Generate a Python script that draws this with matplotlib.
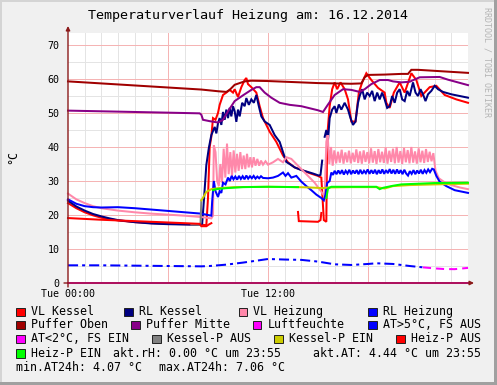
import numpy as np
import matplotlib.pyplot as plt
from matplotlib.patches import Rectangle

W, H = 497, 385
nan = np.nan
MONO = 'DejaVu Sans Mono'

# (hour, value) pairs
vl_kessel = [(0, 23.5), (0.5, 22.0), (1, 20.8), (1.5, 19.9), (2, 19.2), (3, 18.4), (4, 17.9), (5, 17.6),
             (6, 17.4), (7, 17.3), (7.9, 17.2), (8.3, 17.0), (8.4, 25), (8.5, 40), (8.6, 43), (8.7, 48.5),
             (8.85, 48), (9.0, 50), (9.1, 52.4), (9.3, 55.3), (9.5, 56), (9.7, 56.8), (9.9, 56), (10.0, 57),
             (10.2, 54.7), (10.4, 57.6), (10.6, 59.7), (10.7, 60.3), (10.8, 58.5), (11.0, 57.6), (11.3, 56),
             (11.5, 52), (11.7, 48.5), (12.1, 44.5), (12.5, 41.5), (12.9, 37.5), (13.2, 35.5), (13.6, 34),
             (14.0, 33.3), (14.5, 32.3), (15.0, 31.5), (15.2, 31.0), (15.35, 18.5), (15.5, 18), (15.55, 43),
             (15.7, 52), (15.85, 57), (16.0, 59), (16.15, 57), (16.35, 59), (16.6, 57), (16.8, 54), (17.0, 47.5),
             (17.25, 47.5), (17.45, 56), (17.65, 59), (17.9, 61.7), (18.2, 59.7), (18.6, 57.4), (19.0, 56),
             (19.1, 53), (19.3, 51.5), (19.55, 56), (19.9, 59), (20.2, 56), (20.6, 61.7), (20.9, 59.7),
             (21.2, 55), (21.7, 57.6), (22.1, 58), (22.6, 55.3), (23.3, 54), (24, 53)]

rl_kessel = [(0, 24.2), (0.5, 22.5), (1, 21.3), (1.5, 20.3), (2, 19.6), (2.5, 19), (3, 18.5), (4, 17.9),
             (5, 17.5), (6, 17.3), (7, 17.2), (7.9, 17.1), (8.05, 17.5), (8.15, 24), (8.3, 34.7), (8.45, 39.7),
             (8.6, 43.5), (8.8, 45.9), (8.9, 44), (9.0, 47), (9.1, 48.5), (9.2, 46.5), (9.3, 50.3), (9.4, 48),
             (9.5, 51), (9.6, 48.5), (9.7, 51.5), (9.8, 49), (9.9, 52), (10.0, 50.5), (10.1, 47.4), (10.2, 51),
             (10.3, 49), (10.45, 53), (10.6, 52), (10.7, 54.4), (10.85, 52.4), (11.0, 54), (11.15, 53),
             (11.3, 55.3), (11.45, 52), (11.6, 49), (11.8, 47.5), (12.1, 46.5), (12.4, 43.5), (12.7, 41.5),
             (12.9, 38.5), (13.1, 35.6), (13.3, 35), (13.6, 34), (13.9, 33.4), (14.3, 32.8), (14.7, 32.2),
             (15.05, 31.6), (15.15, 31.8), (15.25, 36), (15.3, nan), (15.4, 43), (15.5, 45), (15.6, 42),
             (15.7, 48.5), (15.85, 51), (16.0, 52), (16.1, 50), (16.25, 52.5), (16.4, 51), (16.6, 53),
             (16.8, 51), (16.95, 48.5), (17.1, 46.5), (17.25, 47.5), (17.4, 53), (17.5, 55), (17.65, 57),
             (17.8, 54), (17.95, 56), (18.1, 55), (18.25, 56.5), (18.4, 53.5), (18.55, 56), (18.7, 54),
             (18.85, 56), (19.0, 54), (19.15, 51.5), (19.3, 52), (19.45, 55), (19.6, 53), (19.75, 56),
             (19.9, 57), (20.05, 54), (20.2, 53.5), (20.35, 56.5), (20.5, 55), (20.7, 59), (20.85, 56),
             (21.0, 55), (21.15, 57), (21.3, 55.5), (21.45, 53.5), (21.6, 55.5), (21.8, 56.5), (22.0, 58),
             (22.2, 57), (22.5, 56.2), (23, 55.5), (23.5, 55), (24, 54.5)]

vl_heizung = [(0, 26.3), (0.5, 24.6), (1, 23.5), (1.5, 22.6), (2, 22.0), (3, 21.3), (4, 20.8), (5, 20.4),
              (6, 20.1), (7, 19.8), (8.0, 19.4), (8.6, 19.0), (8.7, 19.8), (8.75, 40.5), (8.85, 38.5),
              (8.95, 30), (9.05, 28.5), (9.14, 35), (9.24, 29.5), (9.34, 39.5), (9.44, 31), (9.54, 41),
              (9.64, 32), (9.74, 38.5), (9.84, 31.5), (9.94, 39), (10.04, 32.5), (10.14, 38), (10.24, 33),
              (10.34, 38.5), (10.44, 33.5), (10.54, 37.5), (10.64, 33.5), (10.74, 38), (10.84, 34),
              (10.94, 37), (11.04, 34), (11.14, 37), (11.25, 34.5), (11.36, 36.5), (11.47, 34.5), (11.58, 36),
              (11.7, 34.8), (11.85, 35.8), (12.0, 34.8), (12.3, 35.5), (12.6, 36.5), (12.9, 35.5), (13.1, 37),
              (13.4, 36.5), (13.7, 35), (14.0, 33.5), (14.4, 31.5), (14.8, 29.5), (15.1, 27.5), (15.4, 25.5),
              (15.5, 41.5), (15.58, 43.5), (15.68, 35), (15.78, 40), (15.88, 34.5),
              (15.98, 39), (16.09, 35.2), (16.2, 38.6), (16.31, 35.4), (16.42, 39.2), (16.53, 35.1),
              (16.64, 38.4), (16.75, 35.5), (16.86, 38.9), (16.97, 35.2), (17.08, 38.3), (17.19, 35.6),
              (17.3, 39.3), (17.41, 35.3), (17.52, 38.7), (17.63, 35.1), (17.74, 39.0), (17.85, 35.6),
              (17.96, 38.5), (18.07, 35.2), (18.18, 39.6), (18.29, 35.4), (18.4, 38.8), (18.51, 35.0),
              (18.62, 39.4), (18.73, 35.5), (18.84, 38.6), (18.95, 35.3), (19.06, 39.8), (19.17, 35.1),
              (19.28, 38.9), (19.39, 35.6), (19.5, 39.5), (19.61, 35.2), (19.72, 40.0), (19.83, 35.4),
              (19.94, 38.8), (20.05, 35.0), (20.16, 39.7), (20.27, 35.5), (20.38, 39.1), (20.49, 35.2),
              (20.6, 40.0), (20.71, 35.4), (20.82, 38.7), (20.93, 35.1), (21.04, 39.6), (21.15, 35.5),
              (21.26, 38.9), (21.37, 35.3), (21.48, 39.4), (21.59, 35.6), (21.7, 38.6), (21.81, 35.8),
              (21.92, 38.2), (22.05, 33), (22.25, 30.8), (22.6, 29.6), (23.0, 28.8), (23.5, 28.1), (24, 27.6)]

rl_heizung = [(0, 24.6), (0.5, 23.3), (1, 22.6), (1.5, 22.3), (2, 22.2), (3, 22.3), (4, 22.0), (5, 21.6),
              (6, 21.2), (7, 20.8), (8, 20.4), (8.6, 19.8), (8.65, 24), (8.75, 30), (8.85, 27), (9.0, 25.3),
              (9.1, 27), (9.2, 26.5), (9.3, 29.5), (9.45, 29), (9.6, 31), (9.71, 30), (9.82, 31.5),
              (9.93, 30.5), (10.04, 31.3), (10.15, 30.4), (10.26, 31.5), (10.37, 30.6), (10.48, 31.4),
              (10.59, 30.5), (10.7, 31.6), (10.81, 30.7), (10.92, 31.4), (11.03, 30.8), (11.14, 31.5),
              (11.25, 30.7), (11.36, 31.3), (11.47, 30.8), (11.58, 31.4), (11.7, 30.9), (12.0, 30.8),
              (12.3, 31), (12.6, 31.5), (12.9, 32.5), (13.05, 31.5), (13.2, 32.3), (13.4, 31), (13.7, 31.5),
              (14.0, 29.8), (14.3, 28.5), (14.6, 27.3), (14.9, 26), (15.2, 25), (15.35, 24.3), (15.45, 26),
              (15.55, 29.4), (15.7, 30), (15.8, 32.5), (15.9, 31.8), (16.0, 33.0), (16.11, 32.0), (16.22, 33.1),
              (16.33, 32.1), (16.44, 33.2), (16.55, 31.9), (16.66, 33.0), (16.77, 32.2), (16.88, 33.3),
              (16.99, 32.0), (17.1, 33.1), (17.21, 32.2), (17.32, 33.2), (17.43, 32.0), (17.54, 33.3),
              (17.65, 32.1), (17.76, 33.0), (17.87, 32.3), (17.98, 33.4), (18.09, 32.1), (18.2, 33.2),
              (18.31, 32.2), (18.42, 33.3), (18.53, 32.0), (18.64, 33.2), (18.75, 32.2), (18.86, 33.4),
              (18.97, 32.1), (19.08, 33.2), (19.19, 32.3), (19.3, 33.5), (19.41, 32.2), (19.52, 33.3),
              (19.63, 32.1), (19.74, 33.4), (19.85, 32.2), (19.96, 33.2), (20.07, 32.0), (20.18, 33.3),
              (20.29, 32.2), (20.4, 31.6), (20.51, 32.9), (20.62, 32.1), (20.73, 33.2), (20.84, 32.0),
              (20.95, 33.1), (21.06, 32.2), (21.17, 33.3), (21.28, 32.1), (21.39, 33.2), (21.5, 32.4),
              (21.61, 33.4), (21.72, 32.6), (21.85, 33.6), (21.95, 33.4), (22.1, 31.5), (22.3, 29.8),
              (22.7, 28.5), (23.2, 27.3), (24, 26.5)]

puffer_oben = [(0, 59.3), (2, 58.7), (4, 58.1), (6, 57.5), (8, 56.9), (9.0, 56.4), (9.5, 56.2), (9.7, 56.8),
               (10.0, 58.3), (10.6, 59.3), (11, 59.5), (12, 59.4), (13, 59.2), (14, 59.0), (15, 58.8),
               (16, 58.7), (17, 58.6), (17.6, 58.7), (17.8, 60.5), (18, 61.2), (19, 61.3), (20, 61.5),
               (20.4, 61.5), (20.6, 62.7), (21, 62.7), (22, 62.4), (23, 62.1), (24, 61.8)]

puffer_mitte = [(0, 50.7), (2, 50.5), (4, 50.3), (6, 50.1), (7.9, 49.9), (8.0, 49.5), (8.1, 48), (8.5, 47.6),
                (9.0, 47.2), (9.3, 48), (9.6, 50.5), (10.0, 53.5), (10.5, 55.2), (11.0, 56.8), (11.3, 57.6),
                (11.5, 57.6), (11.8, 56), (12.2, 54.5), (12.7, 53), (13.3, 52.4), (14, 52), (14.5, 51.4),
                (15.0, 50.8), (15.3, 50.3), (15.6, 52.5), (16.0, 55.3), (16.5, 57), (17, 56.8), (17.5, 56.2),
                (17.8, 57), (18.2, 58.5), (18.7, 59.7), (19.2, 59.7), (19.5, 59.3), (20, 59), (20.5, 59.2),
                (21.1, 60.5), (22.3, 60.6), (22.8, 59.8), (23.4, 59), (24, 58.2)]

luftfeuchte = [(0, 0), (24, 0)]

at_warm = [(0, 5.2), (2, 5.2), (4, 5.1), (6, 5.0), (8, 4.9), (8.5, 5.0), (9.5, 5.4), (10.5, 6.0),
           (11.5, 6.7), (12.0, 7.06), (13, 6.9), (14, 6.8), (15, 6.3), (16, 5.5), (17, 5.3), (18, 5.6),
           (18.5, 5.8), (19.5, 5.6), (20.5, 5.0), (21.3, 4.6)]
at_cold = [(21.3, 4.6), (22, 4.3), (22.6, 4.1), (23.2, 4.07), (24, 4.44)]

kessel_p_aus = [(7.4, 17.2), (7.9, 17.1), (7.95, 17.4), (8.0, 24.3)]
kessel_p_ein = [(8.0, 24.3), (8.15, 25.5), (8.3, 26.8), (8.6, 27.6), (9, 27.9), (10, 28.2), (12, 28.3),
                (13.8, 28.2), (14.5, 28.1), (15.3, 27.9), (15.6, 28.1), (17, 28.2), (18.5, 28.2), (19, 27.8),
                (19.5, 28.5), (20.5, 28.8), (22, 29), (24, 29.2)]
heiz_p_aus = [(0, 19.1), (2, 18.6), (4, 18.2), (6, 17.8), (7.9, 17.4), (8.0, 16.7), (8.3, 16.7),
              (8.45, 17.2), (8.6, 17.6), (8.65, nan), (13.8, 20.9), (13.85, 18.2), (15.0, 18.0),
              (15.15, 18.5), (15.2, 20.6)]
heiz_p_ein = [(8.7, 27.3), (8.9, 27.6), (9.5, 27.9), (10.5, 28.2), (12, 28.3), (13.8, 28.2), (13.85, nan),
              (15.5, 25), (15.6, 27.8), (15.8, 28.3), (17, 28.3), (18.5, 28.3), (18.7, 27.6), (18.9, 28),
              (19.5, 28.6), (20, 29), (21, 29.2), (22, 29.4), (24, 29.5)]

series = [
    (vl_kessel, '#ff0000', '-'),
    (rl_kessel, '#000080', '-'),
    (vl_heizung, '#ff88aa', '-'),
    (rl_heizung, '#0000ff', '-'),
    (puffer_oben, '#a00000', '-'),
    (puffer_mitte, '#880088', '-'),
    (luftfeuchte, '#ff00ff', '-'),
    (at_warm, '#0000ff', (0, (5, 2, 1.5, 2))),
    (at_cold, '#ff00ff', (0, (4, 2.5))),
    (kessel_p_aus, '#808080', '-'),
    (kessel_p_ein, '#cccc00', '-'),
    (heiz_p_aus, '#ff0000', '-'),
    (heiz_p_ein, '#00ff00', '-'),
]

legend_rows = [
    [(30.7, 'VL Kessel', '#ff0000'), (138.7, 'RL Kessel', '#000080'),
     (253.3, 'VL Heizung', '#ff88aa'), (382.7, 'RL Heizung', '#0000ff')],
    [(30.7, 'Puffer Oben', '#a00000'), (145.7, 'Puffer Mitte', '#880088'),
     (267.3, 'Luftfeuchte', '#ff00ff'), (382.7, 'AT>5°C, FS AUS', '#0000ff')],
    [(30.7, 'AT<2°C, FS EIN', '#ff00ff'), (166.7, 'Kessel-P AUS', '#808080'),
     (288.7, 'Kessel-P EIN', '#cccc00'), (410.7, 'Heiz-P AUS', '#ff0000')],
    [(30.7, 'Heiz-P EIN', '#00ff00'), (112.7, 'akt.rH: 0.00 °C um 23:55', None),
     (312.7, 'akt.AT: 4.44 °C um 23:55', None)],
    [(16, 'min.AT24h: 4.07 °C', None), (158.7, 'max.AT24h: 7.06 °C', None)],
]
row_y = [311.7, 325, 339, 353.3, 367.7]


def px(x, y):
    return x / W, 1 - y / H


fig = plt.figure(figsize=(W / 100, H / 100), dpi=100, facecolor='#f0f0f0')

# frame shading
for (x0, y0, w, h, c) in [(0, 0, 2, H, '#d4d4d4'), (0, 0, W, 2, '#d4d4d4'),
                          (W - 3, 0, 3, H, '#a0a0a0'), (0, H - 3, W, 3, '#a0a0a0')]:
    fig.add_artist(Rectangle((x0 / W, 1 - (y0 + h) / H), w / W, h / H,
                             transform=fig.transFigure, color=c, lw=0))

ax = fig.add_axes([68 / W, (H - 283) / H, 400 / W, 250 / H])
ax.set_facecolor('white')
ax.set_xlim(0, 24)
ax.set_ylim(0, 250 / 3.4)
for s in ax.spines.values():
    s.set_visible(False)

# grid
for h in range(1, 24):
    if h % 6:
        ax.axvline(h, color='#e4e4e4', lw=0.72, zorder=0)
for h in [6, 12, 18]:
    ax.axvline(h, color='#f5b4b4', lw=0.72, zorder=0)
for v in range(5, 75, 10):
    ax.axhline(v, color='#e4e4e4', lw=0.72, zorder=0)
for v in range(10, 80, 10):
    ax.axhline(v, color='#f5b4b4', lw=0.72, zorder=0)

for data, color, ls in series:
    arr = np.array(data, dtype=float)
    ax.plot(arr[:, 0], arr[:, 1], color=color, lw=1.45, ls=ls, solid_joinstyle='miter', clip_on=False)

ax.set_yticks(range(0, 80, 10))
ax.set_yticklabels([str(v) for v in range(0, 80, 10)], fontfamily=MONO, fontsize=7.2)
ax.set_xticks([0, 12])
ax.set_xticklabels(['Tue 00:00', 'Tue 12:00'], fontfamily=MONO, fontsize=7.2)
ax.tick_params(length=0)
ax.tick_params(axis='y', pad=6)
ax.tick_params(axis='x', pad=4)

# axes with arrows
arrow_c = '#8b1a1a'
ax.annotate('', xy=px(474, 283), xytext=px(64, 283), xycoords='figure fraction',
            arrowprops=dict(arrowstyle='-|>', color=arrow_c, lw=1, mutation_scale=6, shrinkA=0, shrinkB=0))
ax.annotate('', xy=px(68, 26), xytext=px(68, 287), xycoords='figure fraction',
            arrowprops=dict(arrowstyle='-|>', color=arrow_c, lw=1, mutation_scale=6, shrinkA=0, shrinkB=0))

fig.text(*px(248, 16), 'Temperaturverlauf Heizung am: 16.12.2014', ha='center', va='center',
         fontfamily=MONO, fontsize=9.6)
fig.text(*px(13, 157), '°C', rotation=90, ha='center', va='center', fontfamily=MONO, fontsize=8.4)
fig.text(*px(487, 62), 'RRDTOOL / TOBI OETIKER', rotation=270, ha='center', va='center',
         fontfamily=MONO, fontsize=6, color='#b4b4b4')

# legend
for row, y in zip(legend_rows, row_y):
    for x, label, color in row:
        if color is not None:
            fig.add_artist(Rectangle(((x - 14.5) / W, 1 - (y + 4.3) / H), 8.5 / W, 8.5 / H,
                                     transform=fig.transFigure, facecolor=color,
                                     edgecolor='#202020', lw=0.7))
        fig.text(*px(x, y), label, ha='left', va='center', fontfamily=MONO, fontsize=8.4)

fig.savefig('out.png', dpi=100, facecolor=fig.get_facecolor())
